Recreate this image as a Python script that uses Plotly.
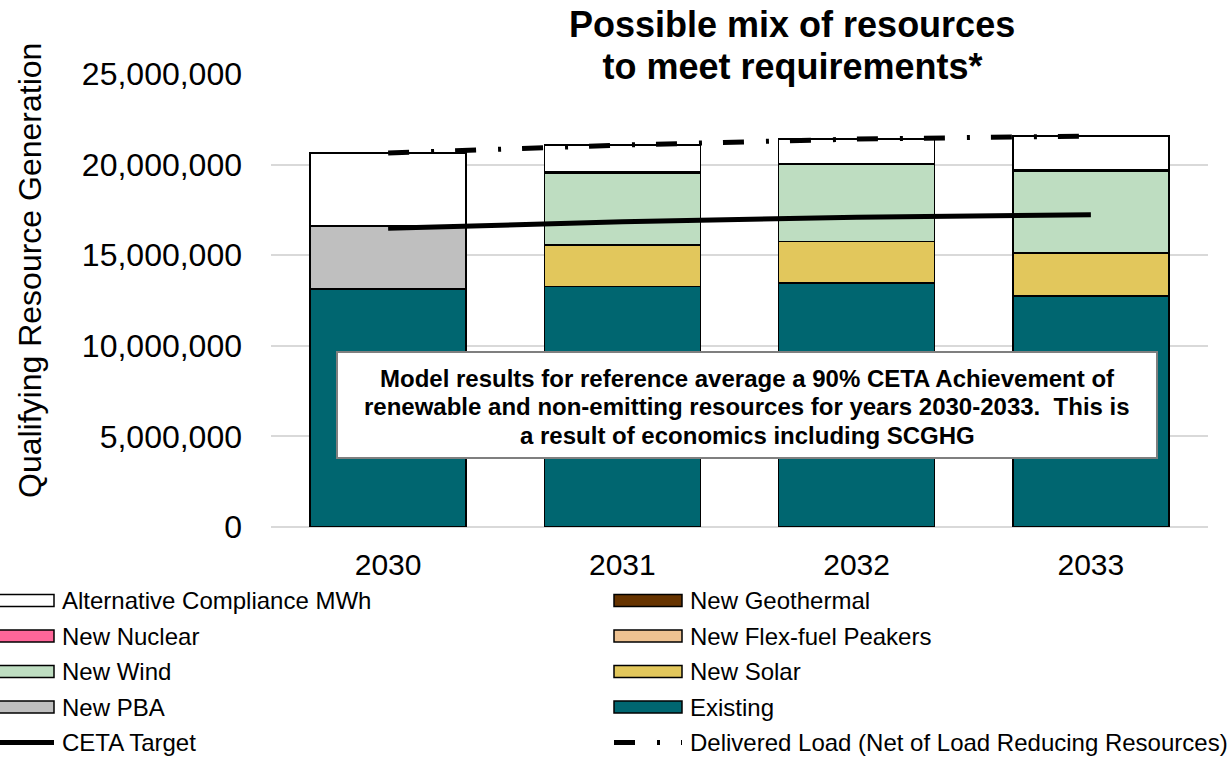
import plotly.graph_objects as go

# ---- data (MWh) ----
years = ["2030", "2031", "2032", "2033"]
existing = [13_130_000, 13_270_000, 13_460_000, 12_760_000]
new_pba = [3_490_000, None, None, None]
new_solar = [None, 2_300_000, 2_300_000, 2_360_000]
new_wind = [None, 3_960_000, 4_260_000, 4_530_000]
new_flex_fuel = [None, None, None, None]
new_nuclear = [None, None, None, None]
new_geothermal = [None, 50_000, 50_000, 50_000]
alt_compliance = [4_010_000, 1_510_000, 1_330_000, 1_880_000]
ceta_target = [16_490_000, 16_840_000, 17_100_000, 17_230_000]
delivered_load = [20_640_000, 21_080_000, 21_410_000, 21_580_000]

y_ticks = [0, 5_000_000, 10_000_000, 15_000_000, 20_000_000, 25_000_000]

note_lines = [
    "Model results for reference average a 90% CETA Achievement of",
    "renewable and non-emitting resources for years 2030-2033.\u00a0 This is",
    "a result of economics including SCGHG",
]

FONT = "Liberation Sans, Arial, sans-serif"
W, H = 1229, 757
L, R, T, B = 271, 1208, 74, 527  # plot area in pixels


def fx(px):
    return (px - L) / (R - L)


def fy(py):
    return (B - py) / (B - T)


series = [
    ("Existing", existing, "#006670"),
    ("New PBA", new_pba, "#BFBFBF"),
    ("New Solar", new_solar, "#E2C75C"),
    ("New Wind", new_wind, "#BEDDC1"),
    ("New Flex-fuel Peakers", new_flex_fuel, "#EEC291"),
    ("New Nuclear", new_nuclear, "#FF6699"),
    ("New Geothermal", new_geothermal, "#663300"),
    ("Alternative Compliance MWh", alt_compliance, "#FFFFFF"),
]

fig = go.Figure()
for name, vals, color in series:
    fig.add_trace(go.Bar(
        x=years, y=vals, name=name,
        marker=dict(color=color, line=dict(color="#000000", width=1.5)),
        showlegend=False,
    ))

fig.add_trace(go.Scatter(
    x=years, y=ceta_target, name="CETA Target", mode="lines",
    line=dict(color="#000000", width=5), showlegend=False, cliponaxis=False,
))
fig.add_trace(go.Scatter(
    x=years, y=delivered_load, name="Delivered Load (Net of Load Reducing Resources)",
    mode="lines", line=dict(color="#000000", width=5, dash="21px,22px,3px,21px"),
    showlegend=False, cliponaxis=False,
))

fig.update_layout(
    width=W, height=H, autosize=False,
    margin=dict(l=L, r=W - R, t=T, b=H - B),
    barmode="stack", bargap=0.334,
    plot_bgcolor="#FFFFFF", paper_bgcolor="#FFFFFF",
    font=dict(family=FONT, color="#000000"),
    xaxis=dict(
        type="category", showgrid=False, showline=False, ticks="",
        tickfont=dict(size=30, family=FONT, color="#000000"),
        ticklabelstandoff=17,
    ),
    yaxis=dict(
        range=[0, 25_000_000], tickvals=y_ticks, tickformat=",d",
        showgrid=True, gridcolor="#D9D9D9", gridwidth=2,
        zeroline=True, zerolinecolor="#D9D9D9", zerolinewidth=2,
        showline=False, ticks="",
        tickfont=dict(size=32, family=FONT, color="#000000"),
        ticklabelstandoff=28,
    ),
)

annotations = []
shapes = []

# chart title (second line sits on a white box over the top gridline)
annotations.append(dict(
    text="<b>to meet requirements*</b>", xref="paper", yref="paper",
    x=fx(792), y=fy(67), xanchor="center", yanchor="middle",
    showarrow=False, bgcolor="#FFFFFF", width=495,
    font=dict(size=36, family=FONT, color="#000000"),
))
annotations.append(dict(
    text="<b>Possible mix of resources</b>", xref="paper", yref="paper",
    x=fx(792), y=fy(24), xanchor="center", yanchor="middle",
    showarrow=False,
    font=dict(size=36, family=FONT, color="#000000"),
))

# y-axis title
annotations.append(dict(
    text="Qualifying Resource Generation", xref="paper", yref="paper",
    x=fx(30), y=fy(271), xanchor="center", yanchor="middle",
    textangle=-90, showarrow=False,
    font=dict(size=32, family=FONT, color="#000000"),
))

# note box
shapes.append(dict(
    type="rect", xref="paper", yref="paper", layer="above",
    x0=fx(337), x1=fx(1157), y0=fy(458), y1=fy(352),
    fillcolor="#FFFFFF", line=dict(color="#7F7F7F", width=2),
))
for i, line in enumerate(note_lines):
    annotations.append(dict(
        text="<b>" + line + "</b>", xref="paper", yref="paper",
        x=fx(747), y=fy(378 + 28.5 * i), xanchor="center", yanchor="middle",
        showarrow=False,
        font=dict(size=24, family=FONT, color="#000000"),
    ))

# legend, two columns
row_y = [600.5, 636, 671.5, 707, 742.5]
legend_items = [
    ("Alternative Compliance MWh", "#FFFFFF", 0, 0, "box"),
    ("New Geothermal", "#663300", 1, 0, "box"),
    ("New Nuclear", "#FF6699", 0, 1, "box"),
    ("New Flex-fuel Peakers", "#EEC291", 1, 1, "box"),
    ("New Wind", "#BEDDC1", 0, 2, "box"),
    ("New Solar", "#E2C75C", 1, 2, "box"),
    ("New PBA", "#BFBFBF", 0, 3, "box"),
    ("Existing", "#006670", 1, 3, "box"),
    ("CETA Target", None, 0, 4, "line"),
    ("Delivered Load (Net of Load Reducing Resources)", None, 1, 4, "dash"),
]
col_sym = [(-14, 54), (614, 682)]
for label, color, col, row, kind in legend_items:
    x0, x1 = col_sym[col]
    yc = row_y[row]
    if kind == "box":
        shapes.append(dict(
            type="rect", xref="paper", yref="paper",
            x0=fx(x0), x1=fx(x1), y0=fy(yc + 6), y1=fy(yc - 6),
            fillcolor=color, line=dict(color="#000000", width=1.5),
        ))
    elif kind == "line":
        shapes.append(dict(
            type="line", xref="paper", yref="paper",
            x0=fx(x0), x1=fx(x1), y0=fy(yc), y1=fy(yc),
            line=dict(color="#000000", width=5),
        ))
    else:
        shapes.append(dict(
            type="line", xref="paper", yref="paper",
            x0=fx(x0), x1=fx(x1), y0=fy(yc), y1=fy(yc),
            line=dict(color="#000000", width=5, dash="21px,22px,3px,21px"),
        ))
    annotations.append(dict(
        text=label, xref="paper", yref="paper",
        x=fx(x1 + 6), y=fy(yc), xanchor="left", yanchor="middle",
        showarrow=False,
        font=dict(size=24, family=FONT, color="#000000"),
    ))

fig.update_layout(annotations=annotations, shapes=shapes)

fig.write_html("out.html")
